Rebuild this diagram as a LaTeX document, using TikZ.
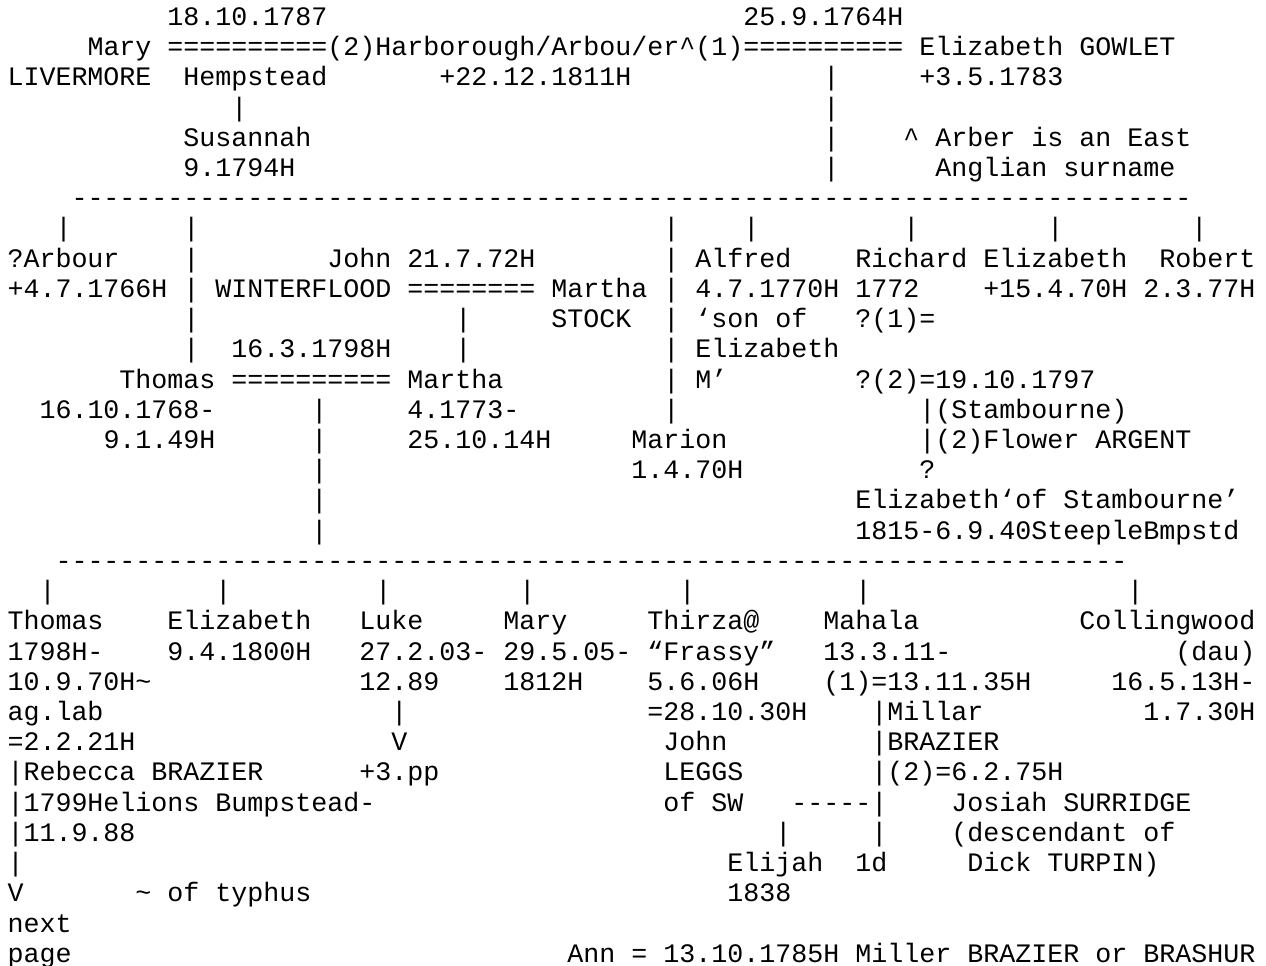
\documentclass[tikz,border=0pt]{standalone}
\usepackage{fontspec}
\setmonofont{Liberation Mono}
\usepackage{tikz}
\tikzset{
    cell/.style={anchor=base west, inner sep=0pt, outer sep=0pt,
        font=\fontsize{20}{22.67}\selectfont\ttfamily},
}

\begin{document}
\begin{tikzpicture}[x=12pt, y=-22.67pt]
        \useasboundingbox (-0.469,-0.838) rectangle (78.66,31.12);
        \node[cell] (maryborn) at (10,0) {18.10.1787};
        \node[cell] (harbbap) at (46,0) {25.9.1764H};
        \node[cell] (mary) at (5,1) {Mary};
        \node[cell] (wedleft) at (10,1) {==========};
        \node[cell] (harb) at (20,1) {(2)Harborough/Arbou/er\textasciicircum(1)};
        \node[cell] (wedright) at (46,1) {==========};
        \node[cell] (gowlet) at (57,1) {Elizabeth GOWLET};
        \node[cell] (livermore) at (0,2) {LIVERMORE};
        \node[cell] (hempstead) at (11,2) {Hempstead};
        \node[cell] (harbdied) at (27,2) {+22.12.1811H};
        \node[cell] (gowletdied) at (57,2) {+3.5.1783};
        \node[cell] (susbar) at (14,3) {|};
        \foreach \r in {2,...,5}
            \node[cell] (gowbar\r) at (51,\r) {|};
        \node[cell] (susannah) at (11,4) {Susannah};
        \node[cell] (susbap) at (11,5) {9.1794H};
        \node[cell] (note1) at (56,4) {\textasciicircum{} Arber is an East};
        \node[cell] (note2) at (58,5) {Anglian surname};
        \node[cell] (sibline) at (4,6) {----------------------------------------------------------------------};
        \foreach \c in {3,11,41,46,56,65,74}
            \node[cell] (sib\c) at (\c,7) {|};
        \node[cell] (arbour) at (0,8) {?Arbour};
        \node[cell] (arbourdied) at (0,9) {+4.7.1766H};
        \foreach \r in {8,...,11}
            \node[cell] (thobar\r) at (11,\r) {|};
        \node[cell] (john) at (20,8) {John 21.7.72H};
        \node[cell] (winterflood) at (13,9) {WINTERFLOOD};
        \node[cell] (wedjohn) at (25,9) {========};
        \node[cell] (marthas) at (34,9) {Martha};
        \node[cell] (stock) at (34,10) {STOCK};
        \node[cell] (marbar10) at (28,10) {|};
        \node[cell] (marbar11) at (28,11) {|};
        \node[cell] (wedthomas) at (14,11) {16.3.1798H};
        \foreach \r in {8,...,13}
            \node[cell] (marbar\r) at (41,\r) {|};
        \node[cell] (alfred) at (43,8) {Alfred};
        \node[cell] (alfredbap) at (43,9) {4.7.1770H};
        \node[cell] (alfrednote1) at (43,10) {‘son of};
        \node[cell] (alfrednote2) at (43,11) {Elizabeth};
        \node[cell] (alfrednote3) at (43,12) {M’};
        \node[cell] (richard) at (53,8) {Richard};
        \node[cell] (richardbap) at (53,9) {1772};
        \node[cell] (richardwed1) at (53,10) {?(1)=};
        \node[cell] (richardwed2) at (53,12) {?(2)=19.10.1797};
        \node[cell] (elizabeth) at (61,8) {Elizabeth};
        \node[cell] (elizabethdied) at (61,9) {+15.4.70H};
        \node[cell] (robert) at (72,8) {Robert};
        \node[cell] (robertbap) at (71,9) {2.3.77H};
        \node[cell] (thomas) at (7,12) {Thomas};
        \node[cell] (wedtm) at (14,12) {==========};
        \node[cell] (martha) at (25,12) {Martha};
        \node[cell] (thomasborn) at (2,13) {16.10.1768-};
        \node[cell] (thomasdied) at (6,14) {9.1.49H};
        \node[cell] (marthaborn) at (25,13) {4.1773-};
        \node[cell] (marthadied) at (25,14) {25.10.14H};
        \foreach \r in {13,...,17}
            \node[cell] (kidbar\r) at (19,\r) {|};
        \node[cell] (marion) at (39,14) {Marion};
        \node[cell] (marionbap) at (39,15) {1.4.70H};
        \node[cell] (stambourne) at (57,13) {|(Stambourne)};
        \node[cell] (argent) at (57,14) {|(2)Flower ARGENT};
        \node[cell] (argentq) at (57,15) {?};
        \node[cell] (elizstam) at (53,16) {Elizabeth‘of Stambourne’};
        \node[cell] (elizstamlife) at (53,17) {1815-6.9.40SteepleBmpstd};
        \node[cell] (kidline) at (3,18) {-------------------------------------------------------------------};
        \foreach \c in {2,13,23,32,42,53,70}
            \node[cell] (kid\c) at (\c,19) {|};
        \node[cell] (thomasjr) at (0,20) {Thomas};
        \node[cell] (thomasjr1) at (0,21) {1798H-};
        \node[cell] (thomasjr2) at (0,22) {10.9.70H\textasciitilde};
        \node[cell] (thomasjr3) at (0,23) {ag.lab};
        \node[cell] (thomasjr4) at (0,24) {=2.2.21H};
        \node[cell] (rebecca) at (0,25) {|Rebecca BRAZIER};
        \node[cell] (rebecca1) at (0,26) {|1799Helions Bumpstead-};
        \node[cell] (rebecca2) at (0,27) {|11.9.88};
        \node[cell] (rebeccabar) at (0,28) {|};
        \node[cell] (nextarrow) at (0,29) {V};
        \node[cell] (typhus) at (8,29) {\textasciitilde{} of typhus};
        \node[cell] (nextword) at (0,30) {next};
        \node[cell] (pageword) at (0,31) {page};
        \node[cell] (elizjr) at (10,20) {Elizabeth};
        \node[cell] (elizjrbap) at (10,21) {9.4.1800H};
        \node[cell] (luke) at (22,20) {Luke};
        \node[cell] (luke1) at (22,21) {27.2.03-};
        \node[cell] (luke2) at (22,22) {12.89};
        \node[cell] (lukebar) at (24,23) {|};
        \node[cell] (lukearrow) at (24,24) {V};
        \node[cell] (luke3) at (22,25) {+3.pp};
        \node[cell] (maryjr) at (31,20) {Mary};
        \node[cell] (maryjr1) at (31,21) {29.5.05-};
        \node[cell] (maryjr2) at (31,22) {1812H};
        \node[cell] (thirza) at (40,20) {Thirza@};
        \node[cell] (thirza1) at (40,21) {“Frassy”};
        \node[cell] (thirza2) at (40,22) {5.6.06H};
        \node[cell] (thirza3) at (40,23) {=28.10.30H};
        \node[cell] (leggs1) at (41,24) {John};
        \node[cell] (leggs2) at (41,25) {LEGGS};
        \node[cell] (leggs3) at (41,26) {of SW};
        \node[cell] (elijahline) at (49,26) {-----|};
        \node[cell] (elijahbar) at (48,27) {|};
        \node[cell] (elijah) at (45,28) {Elijah};
        \node[cell] (elijahbap) at (45,29) {1838};
        \node[cell] (mahala) at (51,20) {Mahala};
        \node[cell] (mahala1) at (51,21) {13.3.11-};
        \node[cell] (mahala2) at (51,22) {(1)=13.11.35H};
        \node[cell] (millar) at (54,23) {|Millar};
        \node[cell] (millar1) at (54,24) {|BRAZIER};
        \node[cell] (mahala3) at (54,25) {|(2)=6.2.75H};
        \node[cell] (onedbar) at (54,27) {|};
        \node[cell] (oned) at (53,28) {1d};
        \node[cell] (josiah) at (59,26) {Josiah SURRIDGE};
        \node[cell] (josiah1) at (59,27) {(descendant of};
        \node[cell] (josiah2) at (60,28) {Dick TURPIN)};
        \node[cell] (colling) at (67,20) {Collingwood};
        \node[cell] (colling1) at (73,21) {(dau)};
        \node[cell] (colling2) at (69,22) {16.5.13H-};
        \node[cell] (colling3) at (71,23) {1.7.30H};
        \node[cell] (ann) at (35,31) {Ann = 13.10.1785H Miller BRAZIER or BRASHUR};
    \end{tikzpicture}
\end{document}
